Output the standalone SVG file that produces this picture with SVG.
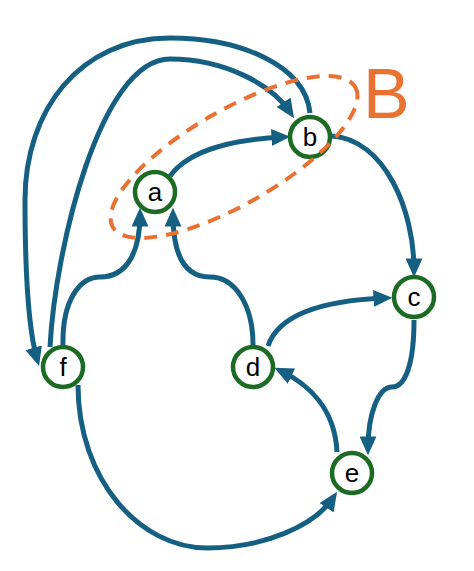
<svg xmlns="http://www.w3.org/2000/svg" width="474" height="571" viewBox="0 0 474 571">
<style>
.edge{fill:none;stroke:#156082;stroke-width:5;marker-end:url(#arr)}
.node circle{fill:#fff;stroke:#1B6B23;stroke-width:4.5}
.node text{font-family:"Liberation Sans",Arial,sans-serif;font-size:26px;fill:#000;text-anchor:middle}
.grp{fill:none;stroke:#E97132;stroke-width:4;stroke-dasharray:13 9}
</style>
<defs>
<marker id="arr" markerUnits="userSpaceOnUse" markerWidth="19" markerHeight="17" viewBox="0 0 18 16" refX="11" refY="8" orient="auto">
<path d="M0,0 L18,8 L0,16 z" fill="#156082"/>
</marker>
</defs>
<g id="connectors">
<path class="edge" d="M170,176 C190,148 240,139 283,137"/>
<path class="edge" d="M332,136 C385,140 414,210 414,270"/>
<path class="edge" d="M50,347 C55,250 100,59 170,59 C225,59 272,85 290,112"/>
<path class="edge" d="M310,113 C305,65 240,38 170,38 C80,38 25,110 25,200 C25,290 30,335 37,359"/>
<path class="edge" d="M63,345 C62,300 80,277 100,277 C128,277 140,250 140,215"/>
<path class="edge" d="M253,345 C253,305 235,277 210,277 C185,277 173,255 173,215"/>
<path class="edge" d="M268,346 C280,310 335,300 385,298"/>
<path class="edge" d="M414,320 C414,365 405,387 392,387 C378,387 368,415 368,448"/>
<path class="edge" d="M337,452 C335,410 310,385 281,371"/>
<path class="edge" d="M78,385 C78,480 140,548 207,548 C265,548 315,525 333,498"/>
</g>
<g id="node-a" class="node"><circle cx="155" cy="192" r="20"/><text x="155" y="201">a</text></g>
<g id="node-b" class="node"><circle cx="310" cy="137" r="20"/><text x="310" y="146">b</text></g>
<g id="node-c" class="node"><circle cx="414" cy="297" r="20"/><text x="414" y="306">c</text></g>
<g id="node-d" class="node"><circle cx="253" cy="367" r="20"/><text x="253" y="376">d</text></g>
<g id="node-e" class="node"><circle cx="352" cy="473" r="20"/><text x="352" y="482">e</text></g>
<g id="node-f" class="node"><circle cx="63" cy="367" r="20"/><text x="63" y="376">f</text></g>
<g id="group-B">
<ellipse class="grp" cx="234" cy="157" rx="140" ry="47" transform="rotate(-30 234 157)"/>
<text x="363" y="118" font-family="'Liberation Sans',Arial,sans-serif" font-size="70" fill="#E97132">B</text>
</g>
</svg>
